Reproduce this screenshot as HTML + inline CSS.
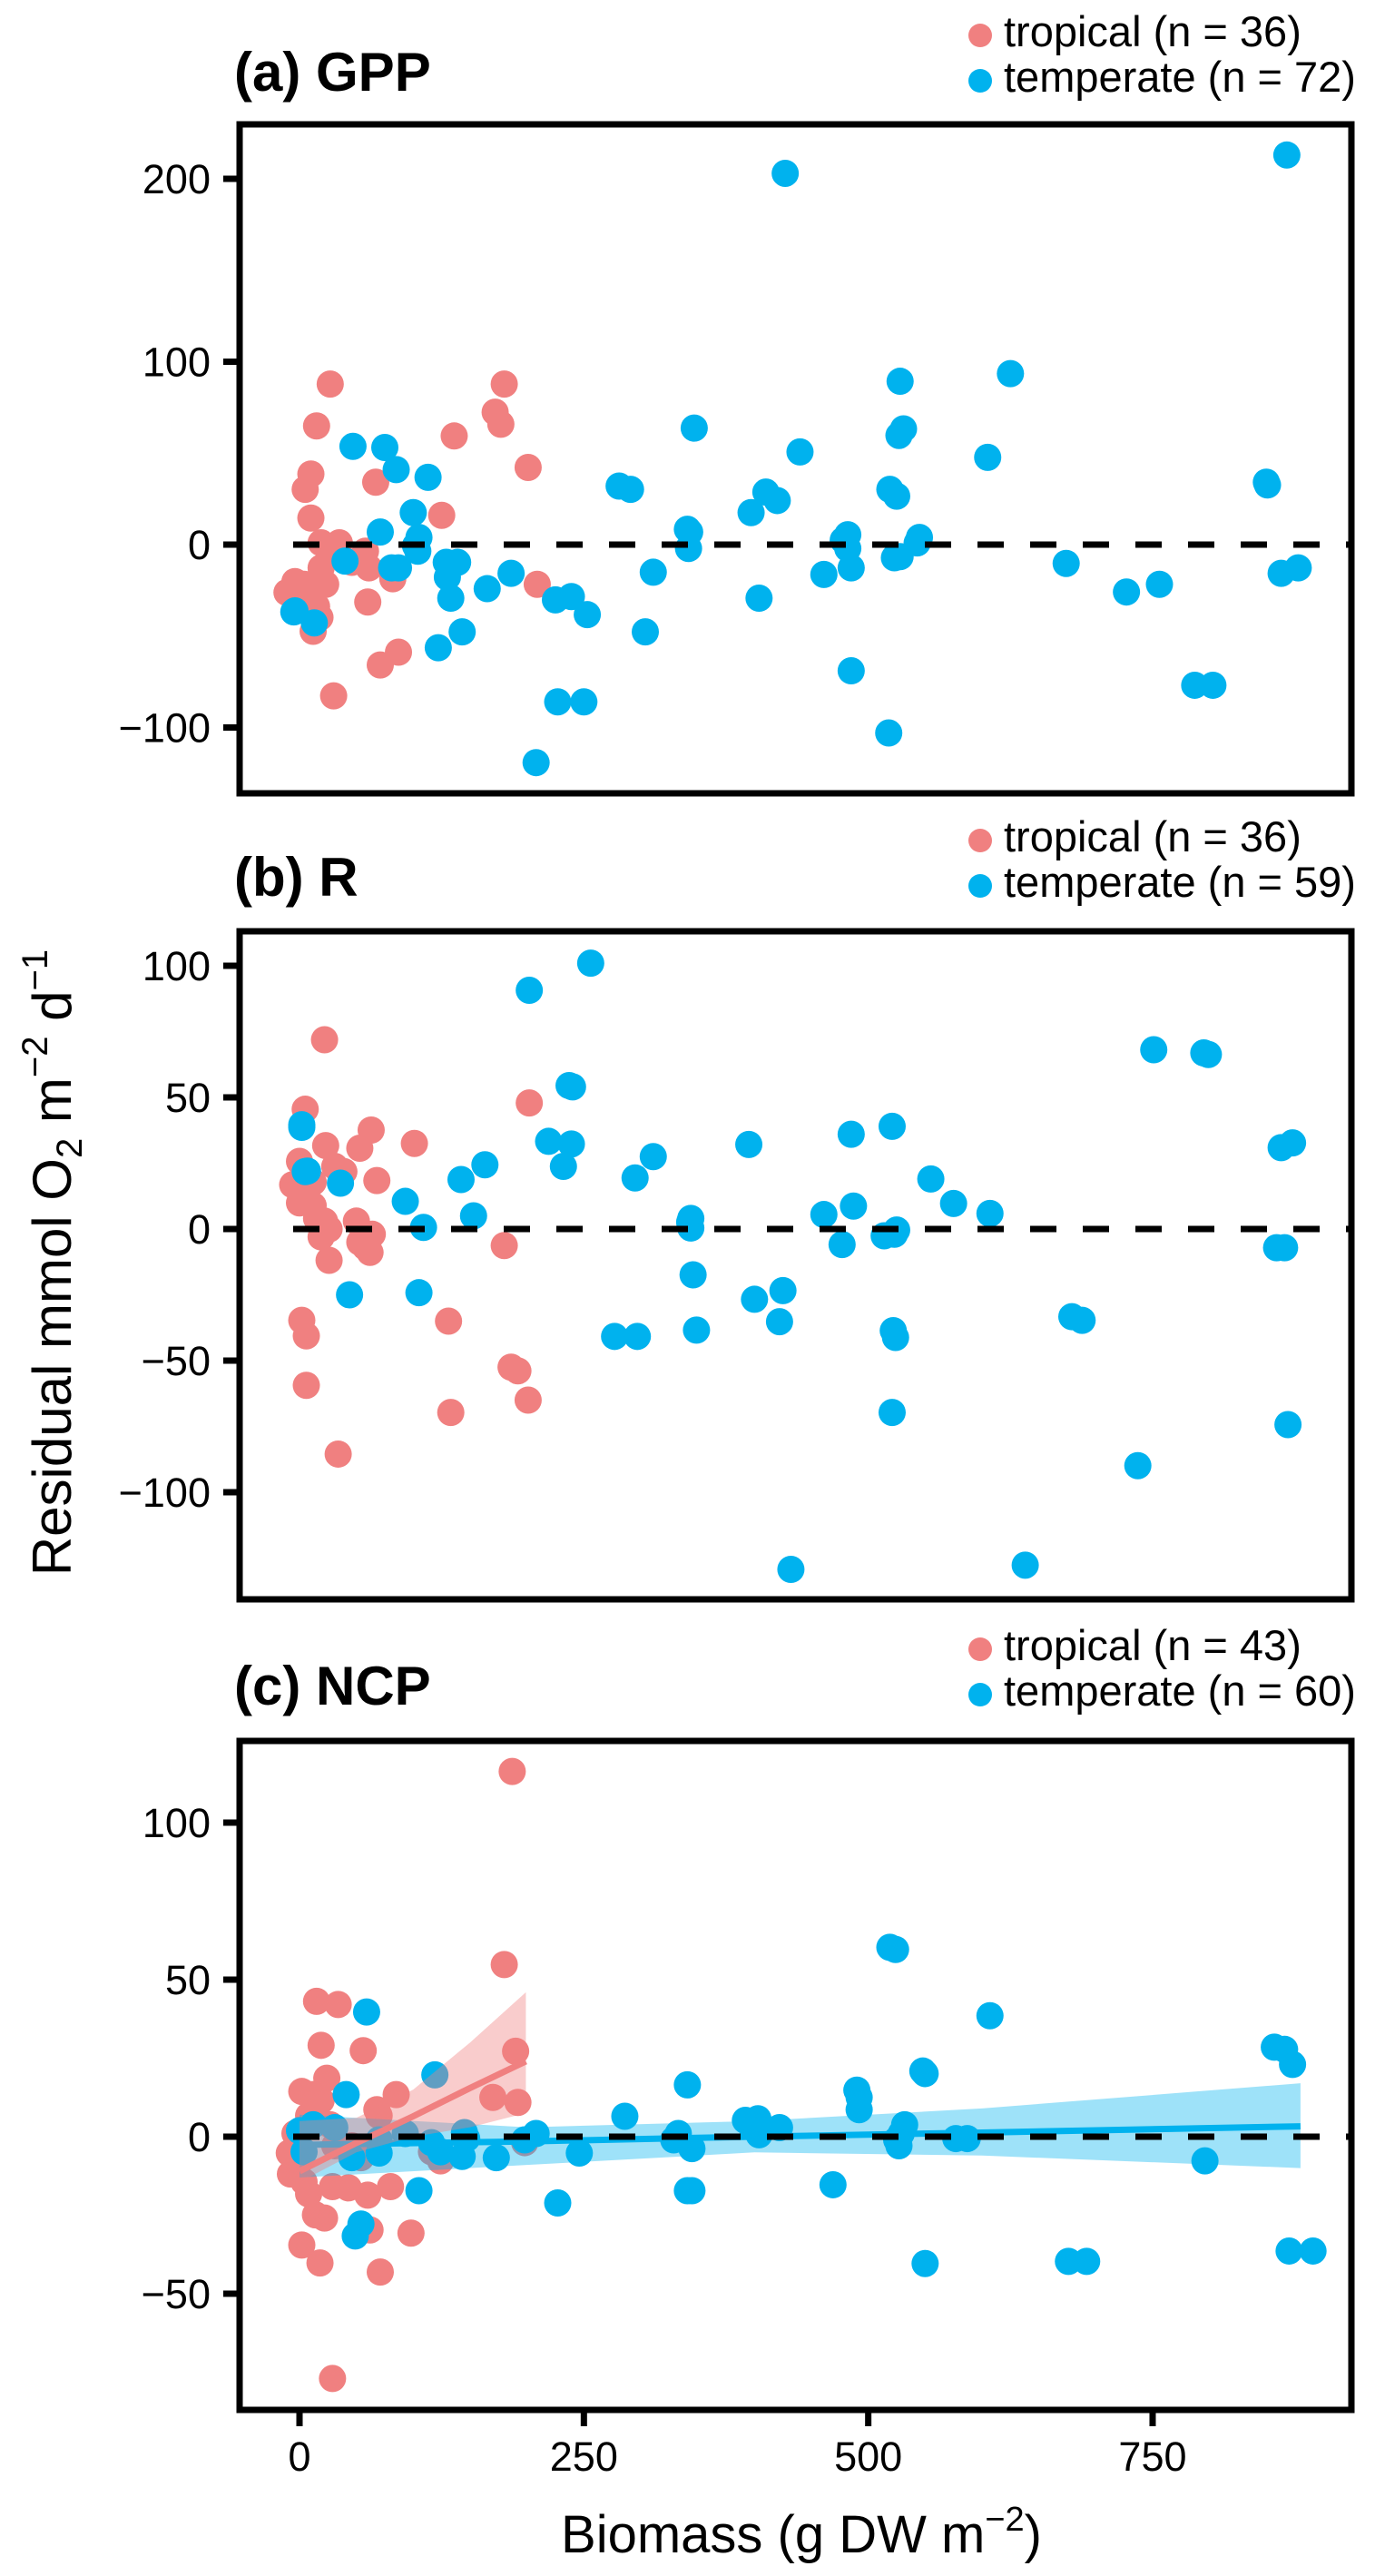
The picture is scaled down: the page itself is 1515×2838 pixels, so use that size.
<!DOCTYPE html>
<html><head><meta charset="utf-8"><style>
html,body{margin:0;padding:0;background:#fff}
svg{display:block}
text{font-family:"Liberation Sans",Arial,sans-serif;fill:#000}
</style></head><body>
<svg id="chart" width="1515" height="2838" viewBox="0 0 1515 2838" xmlns="http://www.w3.org/2000/svg">
<rect width="1515" height="2838" fill="#fff"/>
<g id="layer"></g>
</svg>
<script>
// ---- data (biomass x, residual y) ----
const aTropX=[27,15,10,5,10,67,125,136,172,177,180,201,19,35,58,61,82,209,60,71,87,30,-4,-11,4,15,23,12,15,12,0,19,8,27,46,18];
const aTropY=[87.8,64.9,38.6,30.2,14.5,34.1,16,59.4,72.4,65.8,87.8,42.2,1,1,-3.6,-12.7,-18.7,-21.7,-31.4,-65.8,-58.8,-82.7,-20.2,-26.2,-21.7,-20.2,-21.7,-30.8,-33.8,-47.4,-27.8,-12.7,-24.7,-3.6,-9.7,-39.8];
const aTempX=[427,868,528,625,347,527,531,440,605,47,75,85,113,281,291,410,420,397,519,525,850,851,100,71,105,341,343,482,478,545,543,342,104,40,139,87,130,186,311,485,461,528,674,756,727,863,878,165,133,225,239,253,404,-4,13,143,122,304,485,518,787,803,227,250,208,81,129,523,482,-5,102];
const aTempY=[203,213,89.3,93.5,63.7,59.7,63.3,50.7,47.7,53.7,53.1,41,36.8,32,30.2,28.7,24.1,17.5,30.2,26.5,34.1,32.6,17.5,6.9,3.9,8.4,6.9,5.4,2.4,3.9,0.9,-2.1,-3.6,-9,-9.7,-12.7,-17.8,-15.7,-15.1,-12.7,-16.3,-6.6,-10.3,-21.7,-25.9,-15.7,-12.7,-24.1,-29.3,-30.2,-28.4,-38.3,-29.3,-36.2,-42.8,-47.7,-56.4,-47.7,-69,-103,-76.9,-76.9,-86,-86,-119.2,-12.7,-9.7,-7.2,-2.1,-36.8,-0.6];
const bTropX=[22,5,0,-6,0,12,23,31,53,63,68,101,22,26,19,26,50,53,64,62,180,2,6,6,34,131,133,186,192,201,202,12,4,39,15,58];
const bTropY=[71.9,45.5,25.7,16.8,9.9,8.9,31.7,23.8,30.7,37.6,18.4,32.5,3,0,-3,-11.9,3,-5,-2,-8.9,-6.3,-34.7,-40.6,-59.4,-85.5,-35,-69.7,-52.5,-53.9,-65,47.9,17.8,13.9,21.8,4,-6.9];
const bTempX=[256,202,237,240,751,795,799,521,485,2,5,36,219,239,232,163,142,311,295,395,555,575,487,461,607,863,873,93,153,109,343,344,525,514,477,859,866,346,44,105,400,425,422,349,277,297,522,524,679,688,521,869,737,432,638,344,523,7,2];
const bTempY=[101,90.7,54.5,54,68.1,66.9,66.3,39,36,39.6,21.8,17.4,33.3,32.3,23.8,24.4,18.8,27.5,19.4,32.1,19,9.7,8.7,5.5,5.9,30.9,32.7,10.5,5,0.6,2.6,0.4,-0.4,-2.6,-5.9,-7.1,-7.1,-17.4,-25,-24.2,-26.7,-23.4,-35.2,-38.4,-40.8,-40.8,-38.6,-41.2,-33.3,-34.7,-69.7,-74.3,-89.9,-129.3,-127.7,4,-2,22,38.6];
const cTropX=[187,180,190,170,192,198,15,34,19,56,24,2,12,19,85,68,27,-4,-9,-8,4,8,29,60,80,14,22,62,98,2,18,71,29,46,54,116,124,31,0,8,70,43,-2];
const cTropY=[116.3,54.8,27.2,12.5,10.9,-1.9,43.1,42.1,29.1,27.4,18.6,14.4,13.4,11.5,13.4,8.6,3.8,1,-5.2,-11.9,-14.4,-18.2,-15.9,-18.6,-15.9,-24.9,-25.9,-29.7,-30.7,-34.5,-40.2,-43.1,-77,-2.9,-6.7,-4.8,-7.7,-2.9,-6.7,6.7,6.7,-16.3,-9.6];
const cTempX=[519,524,607,857,866,873,59,119,41,341,286,548,550,490,492,392,403,422,404,532,527,577,587,329,345,208,145,0,4,70,143,173,246,796,105,341,345,469,227,54,49,550,676,692,870,891,93,31,46,70,529,333,198,124,12,116,525,398,492,147];
const cTempY=[60.3,59.6,38.5,28.5,27.8,23,39.7,19.7,13.4,16.5,6.5,20.9,20.1,14.8,8.6,5.2,5.7,2.9,0.6,3.8,-2.9,-0.6,-0.6,-1,-3.8,1,1.3,1.9,-4.8,-5.2,-6.3,-6.7,-5.2,-7.7,-17.2,-17.2,-17.2,-15.3,-21.1,-27.8,-31.6,-40.4,-39.7,-39.7,-36.4,-36.4,1,2.9,-6.7,-1,1,1,-1,-4.8,3.8,-1.9,-1,2.9,12.5,-0.6];
// fitted smooths (panel c)
const fitTropX=[0,50,100,150,199];
const fitTropLo=[-14.5,-5,0,3,7.5];
const fitTropHi=[5,6,15,30,46];
const fitTropLine=[-11,-2,6.5,15.5,24];
const fitTempX=[0,200,400,600,880];
const fitTempLo=[-13,-9,-5,-6,-10];
const fitTempHi=[7,3,5,9,17];
const fitTempLine=[-2.6,-1.5,0,1.3,3.3];
const xTicks=[0,250,500,750];
const aTicks=[200,100,0,-100];
const bTicks=[100,50,0,-50,-100];
const cTicks=[100,50,0,-50];

const NS='http://www.w3.org/2000/svg';
const layer=document.getElementById('layer');
const TROP='#F08080', TEMP='#00B2EE';
const L=264, R=1489;
function X(v){return 330+v*1.2533;}
function mk(tag,attrs,parent){const e=document.createElementNS(NS,tag);for(const k in attrs)e.setAttribute(k,attrs[k]);(parent||layer).appendChild(e);return e;}

const panels=[
 {id:'a',title:'(a) GPP',top:137,bot:874,y0:600,k:2.015,ticks:aTicks,tX:aTropX,tY:aTropY,mX:aTempX,mY:aTempY,nT:36,nM:72,leg:39},
 {id:'b',title:'(b) R',top:1026,bot:1762,y0:1354,k:2.90,ticks:bTicks,tX:bTropX,tY:bTropY,mX:bTempX,mY:bTempY,nT:36,nM:59,leg:926},
 {id:'c',title:'(c) NCP',top:1918,bot:2655,y0:2354,k:3.46,ticks:cTicks,tX:cTropX,tY:cTropY,mX:cTempX,mY:cTempY,nT:43,nM:60,leg:1817}
];

panels.forEach(p=>{
  const Y=v=>p.y0-v*p.k;
  const g=mk('g',{});
  
  
  const t=mk('text',{x:258,y:p.leg+61,'font-size':60,'font-weight':'bold'},g);
  t.textContent=p.title;
  
  
  [[TROP,'tropical (n = '+p.nT+')',p.leg],[TEMP,'temperate (n = '+p.nM+')',p.leg+50]].forEach((L2,i)=>{
    const lg=mk('g',{},g);
    
    
    mk('circle',{cx:1080,cy:L2[2],r:13,fill:L2[0]},lg);
    const tt=mk('text',{x:1106,y:L2[2]+12,'font-size':47},lg);
    tt.textContent=L2[1];
  });
  p.ticks.forEach(v=>{
    const tk=mk('line',{x1:246,x2:264,y1:Y(v),y2:Y(v),stroke:'#000','stroke-width':7},g);
    
    
    const tl=mk('text',{x:232,y:Y(v)+16,'font-size':45,'text-anchor':'end'},g);
    tl.textContent=v<0?'\u2212'+Math.abs(v):String(v);
    
    
  });
  p.tX.forEach((xv,i)=>{
    const c=mk('circle',{cx:X(xv),cy:Y(p.tY[i]),r:15,fill:TROP},g);
    
    
  });
  p.mX.forEach((xv,i)=>{
    const c=mk('circle',{cx:X(xv),cy:Y(p.mY[i]),r:15,fill:TEMP},g);
    
    
  });
  if(p.id==='c'){
    const fits=[[fitTempX,fitTempLo,fitTempHi,fitTempLine,'rgba(0,178,238,0.38)',TEMP,'temperate'],[fitTropX,fitTropLo,fitTropHi,fitTropLine,'rgba(240,128,128,0.4)',TROP,'tropical']];
    fits.forEach(f=>{
      let d='';
      f[0].forEach((xv,i)=>{d+=(i?'L':'M')+X(xv)+','+Y(f[2][i]);});
      for(let i=f[0].length-1;i>=0;i--)d+='L'+X(f[0][i])+','+Y(f[1][i]);
      const rb=mk('path',{d:d+'Z',fill:f[4]},g);
      
      
      const pts=f[0].map((xv,i)=>X(xv)+','+Y(f[3][i])).join(' ');
      const ln=mk('polyline',{points:pts,fill:'none',stroke:f[5],'stroke-width':7},g);
      
      
    });
  }
  const zl=mk('line',{x1:323,x2:R,y1:Y(0),y2:Y(0),stroke:'#000','stroke-width':7,'stroke-dasharray':'29 29'},g);
  
  
  const fr=mk('rect',{x:L,y:p.top,width:R-L,height:p.bot-p.top,fill:'none',stroke:'#000','stroke-width':7},g);
  
  
});

xTicks.forEach(v=>{
  const tk=mk('line',{x1:X(v),x2:X(v),y1:2655,y2:2673,stroke:'#000','stroke-width':7});
  
  
  const tl=mk('text',{x:X(v),y:2722,'font-size':45,'text-anchor':'middle'});
  tl.textContent=String(v);
  
  
});
</script>
<svg style="position:absolute;left:0;top:0" width="1515" height="2838" viewBox="0 0 1515 2838">
<text x="883" y="2812" font-size="58" text-anchor="middle" style="font-family:'Liberation Sans',sans-serif">Biomass (g DW m<tspan font-size="38" dy="-24">−2</tspan><tspan dy="24">)</tspan></text>
<text transform="translate(78,1391) rotate(-90)" font-size="60" text-anchor="middle" style="font-family:'Liberation Sans',sans-serif">Residual mmol O<tspan font-size="40" dy="12">2</tspan><tspan dy="-12"> m</tspan><tspan font-size="40" dy="-26">−2</tspan><tspan dy="26"> d</tspan><tspan font-size="40" dy="-26">−1</tspan></text>
</svg>
</body></html>
